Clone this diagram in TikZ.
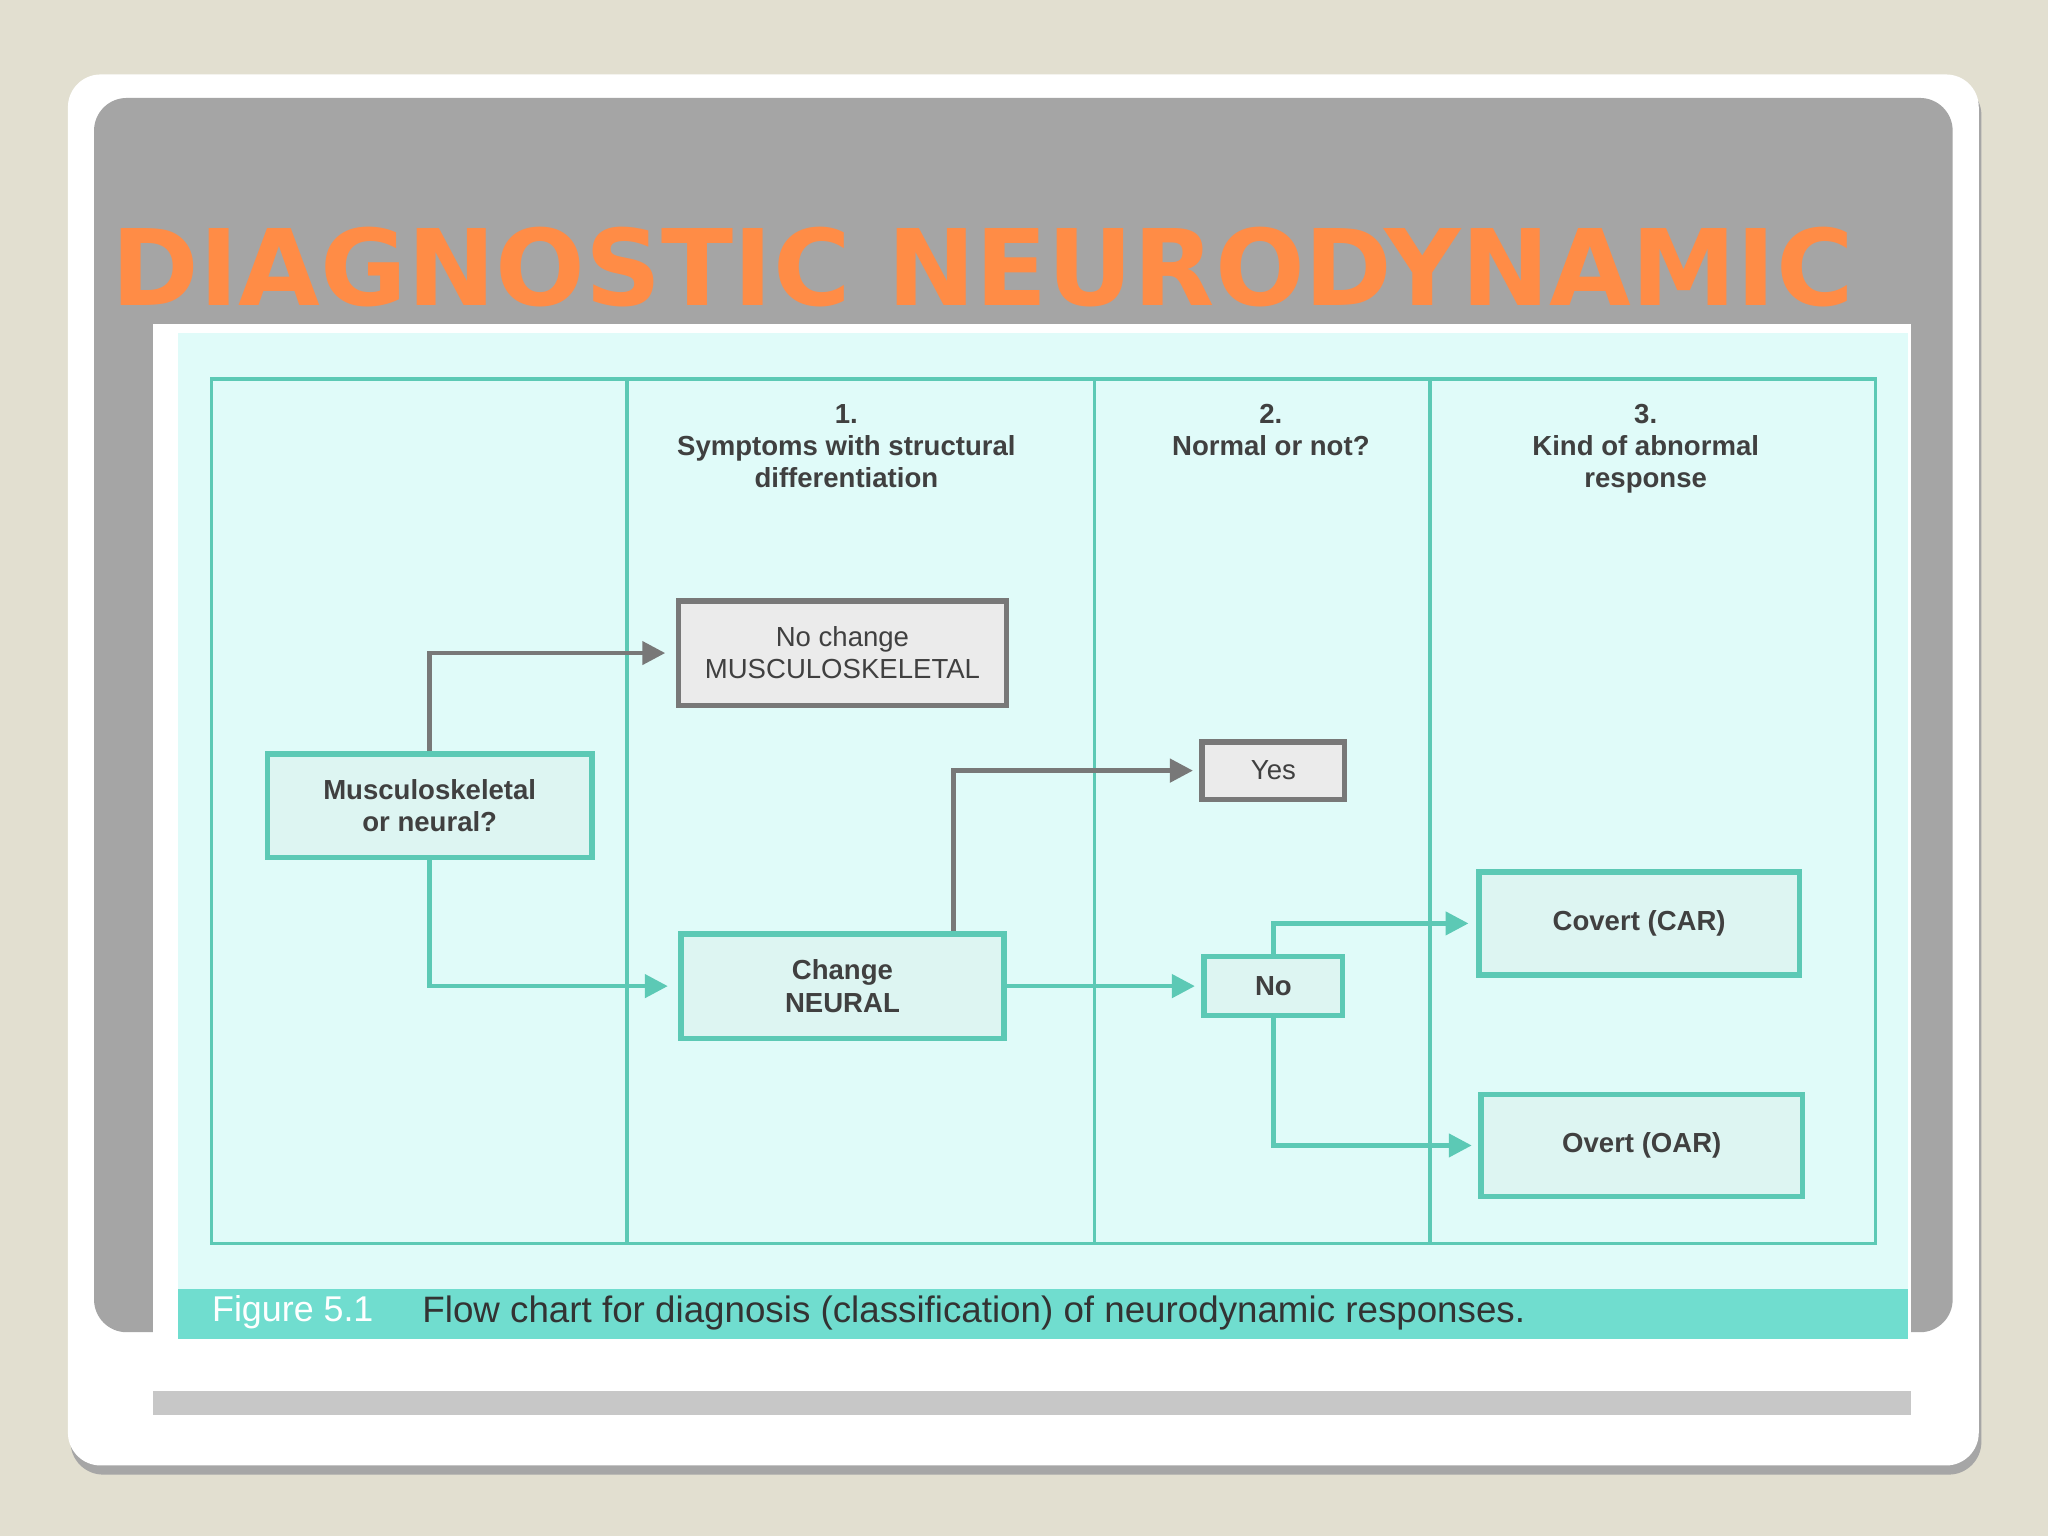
\documentclass[tikz,border=0pt]{standalone}
\usepackage{fontspec}
\setmainfont{Liberation Sans}
\newfontfamily\titlefont{DejaVu Sans}
\usetikzlibrary{arrows.meta}
\definecolor{slidebg}{RGB}{226,223,208}
\definecolor{slidegray}{RGB}{165,165,165}
\definecolor{titleorange}{RGB}{255,140,70}
\definecolor{chartbg}{RGB}{224,251,249}
\definecolor{tealline}{RGB}{92,201,181}
\definecolor{capbar}{RGB}{112,221,207}
\definecolor{boxgray}{RGB}{120,120,120}
\tikzset{
  txt/.style={font=\fontsize{6}{7}\selectfont\bfseries, text=black!75, align=center},
  tealbox/.style={txt, draw=tealline, line width=1.2pt, fill=chartbg!60!tealline!40, inner sep=0pt},
  graybox/.style={txt, draw=boxgray, line width=1.2pt, fill=white!92!black, inner sep=0pt, font=\fontsize{6}{7}\selectfont},
  tealarrow/.style={draw=tealline, line width=1pt, -{Triangle[length=5pt,width=5pt]}},
  grayarrow/.style={draw=boxgray, line width=1pt, -{Triangle[length=5pt,width=5pt]}}
}
\begin{document}
\begin{tikzpicture}[x=0.01cm, y=-0.01cm]
\useasboundingbox (0,0) rectangle (1568,1176);
% slide
\fill[slidebg] (0,0) rectangle (1568,1176);
\fill[black!35, rounded corners=0.25cm] (54,63) rectangle (1517,1129);
\fill[white, rounded corners=0.25cm] (52,57) rectangle (1515,1122);
\fill[slidegray, rounded corners=0.25cm] (72,75) rectangle (1495,1020);
\node[anchor=base west, inner sep=0pt, text=titleorange, font=\titlefont\fontsize{23}{26}\selectfont\bfseries] (title) at (85,234) {DIAGNOSTIC NEURODYNAMIC};
% scanned figure
\fill[white] (117,248) rectangle (1463,1065);
\fill[black!22] (117,1065) rectangle (1463,1083);
\fill[chartbg] (136,255) rectangle (1461,987);
\fill[capbar] (136,987) rectangle (1461,1025);
\node[anchor=west, text=white, font=\fontsize{7.8}{8}\selectfont] (fig) at (150,1005) {Figure 5.1};
\node[anchor=west, text=black!80, font=\fontsize{8}{9}\selectfont] (caption) at (311,1005) {Flow chart for diagnosis (classification) of neurodynamic responses.};
% columns
\draw[tealline, line width=0.8pt] (162,290) rectangle (1436,952);
\foreach \cx in {480,838,1095}
  \draw[tealline, line width=0.8pt] (\cx,290) -- (\cx,952);
\node[txt, anchor=north] (head1) at (648,297) {1.\\Symptoms with structural\\differentiation};
\node[txt, anchor=north] (head2) at (973,297) {2.\\Normal or not?};
\node[txt, anchor=north] (head3) at (1260,297) {3.\\Kind of abnormal\\response};
% boxes
\node[tealbox, minimum width=2.48cm, minimum height=0.79cm] (question) at (329,617) {Musculoskeletal\\or neural?};
\node[graybox, minimum width=2.51cm, minimum height=0.80cm] (nochange) at (645,500) {No change\\MUSCULOSKELETAL};
\node[graybox, minimum width=1.09cm, minimum height=0.44cm] (yes) at (975,590) {Yes};
\node[tealbox, minimum width=2.47cm, minimum height=0.80cm] (change) at (645,755) {Change\\NEURAL};
\node[tealbox, minimum width=1.06cm, minimum height=0.45cm] (no) at (975,755) {No};
\node[tealbox, minimum width=2.45cm, minimum height=0.79cm] (covert) at (1255,707) {Covert (CAR)};
\node[tealbox, minimum width=2.46cm, minimum height=0.78cm] (overt) at (1257,877) {Overt (OAR)};
% connectors
\draw[grayarrow] (question.north) |- ([xshift=-0.08cm]nochange.west);
\draw[tealarrow] (question.south) |- ([xshift=-0.08cm]change.west);
\draw[grayarrow] ([xshift=0.85cm]change.north) |- ([xshift=-0.05cm]yes.west);
\draw[tealarrow] (change.east) -- ([xshift=-0.05cm]no.west);
\draw[tealarrow] (no.north) |- ([xshift=-0.06cm]covert.west);
\draw[tealarrow] (no.south) |- ([xshift=-0.05cm]overt.west);
\end{tikzpicture}
\end{document}
